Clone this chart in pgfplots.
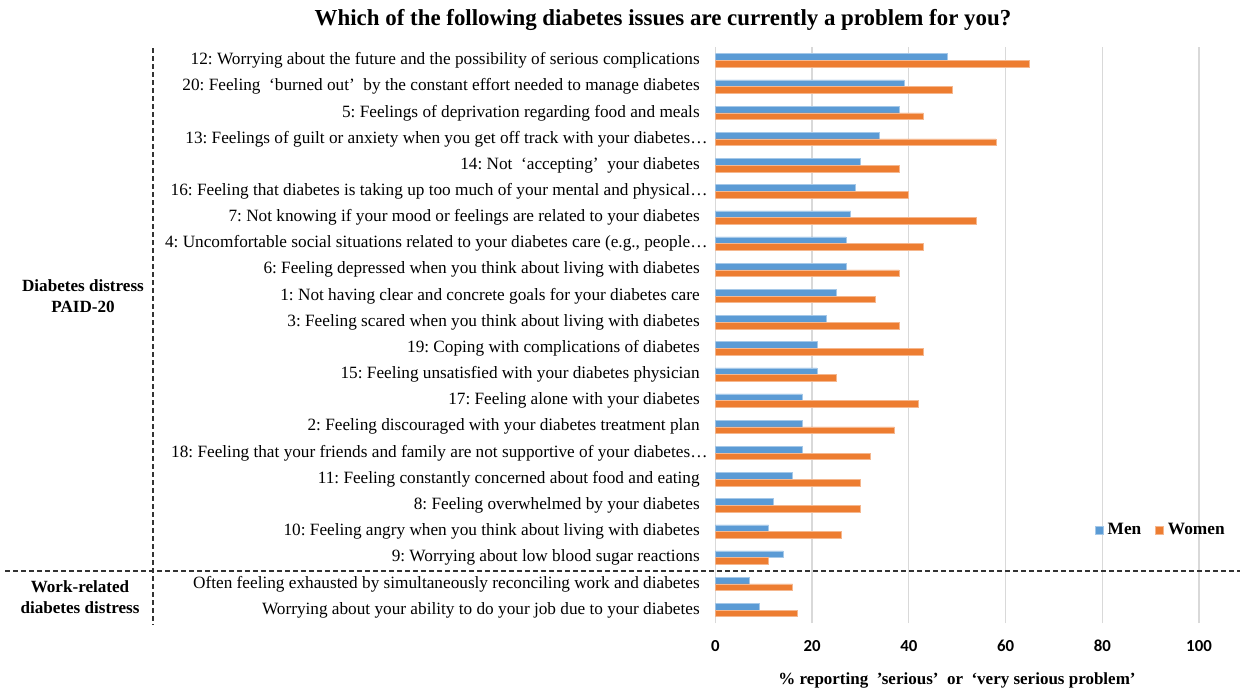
\documentclass[border=0pt]{standalone}
\usepackage{fontspec}
\setmainfont{Liberation Serif}
\newfontfamily\calibri{Carlito}
\usepackage{pgfplots}
\pgfplotsset{compat=1.18}
\definecolor{menblue}{HTML}{5B9BD5}
\definecolor{womenorange}{HTML}{ED7D31}
\frenchspacing
\newcommand{\el}{\makebox[0.55em][l]{…}}
\begin{document}
\begin{tikzpicture}
\begin{axis}[
  at={(357.65pt,-311.55pt)}, anchor=south west,
  scale only axis, width=241.85pt, height=287.85pt,
  xmin=0, xmax=100, ymin=-0.5, ymax=21.5,
  xtick={0,20,40,60,80,100}, xticklabels={0,20,40,60,80,100},
  ytick={0,...,21},
  yticklabels={
    {Worrying about your ability to do your job due to your diabetes},
    {Often feeling exhausted by simultaneously reconciling work and diabetes},
    {9: Worrying about low blood sugar reactions},
    {10: Feeling angry when you think about living with diabetes},
    {8: Feeling overwhelmed by your diabetes},
    {11: Feeling constantly concerned about food and eating},
    {18: Feeling that your friends and family are not supportive of your diabetes\el},
    {2: Feeling discouraged with your diabetes treatment plan},
    {17: Feeling alone with your diabetes},
    {15: Feeling unsatisfied with your diabetes physician},
    {19: Coping with complications of diabetes},
    {3: Feeling scared when you think about living with diabetes},
    {1: Not having clear and concrete goals for your diabetes care},
    {6: Feeling depressed when you think about living with diabetes},
    {4: Uncomfortable social situations related to your diabetes care (e.g., people\el},
    {7: Not knowing if your mood or feelings are related to your diabetes},
    {16: Feeling that diabetes is taking up too much of your mental and physical\el},
    {14: Not\ \ ‘accepting’\ \ your diabetes},
    {13: Feelings of guilt or anxiety when you get off track with your diabetes\el},
    {5: Feelings of deprivation regarding food and meals},
    {20: Feeling\ \ ‘burned out’\ \ by the constant effort needed to manage diabetes},
    {12: Worrying about the future and the possibility of serious complications}
  },
  xmajorgrids, grid style={draw=black!15, line width=0.7pt},
  axis line style={draw=none},
  major tick length=0pt,
  yticklabel style={anchor=east, inner sep=0pt, xshift=-7.6pt, font=\fontsize{8.62}{10}\selectfont},
  xticklabel style={anchor=north, inner sep=0pt, yshift=-8.3pt, font=\calibri\bfseries\fontsize{8.4}{10}\selectfont},
  xbar, bar width=3.35pt,
  legend style={at={(0.772,0.162)}, anchor=west, draw=none, fill=none,
    legend columns=2, font=\bfseries\fontsize{8.65}{10}\selectfont,
    /tikz/every even column/.append style={column sep=5pt}},
  legend image code/.code={\fill[#1] (0pt,-2pt) rectangle (4pt,2pt);},
]
\addplot[xbar, bar shift=1.675pt, fill=menblue, draw=menblue!55, line width=0.3pt] coordinates {
(9,0) (7,1) (14,2) (11,3) (12,4) (16,5) (18,6) (18,7) (18,8) (21,9) (21,10)
(23,11) (25,12) (27,13) (27,14) (28,15) (29,16) (30,17) (34,18) (38,19) (39,20) (48,21)};
\addplot[xbar, bar shift=-1.675pt, fill=womenorange, draw=womenorange!55, line width=0.3pt] coordinates {
(17,0) (16,1) (11,2) (26,3) (30,4) (30,5) (32,6) (37,7) (42,8) (25,9) (43,10)
(38,11) (33,12) (38,13) (43,14) (54,15) (40,16) (38,17) (58,18) (43,19) (49,20) (65,21)};
\legend{Men,Women}
\end{axis}
\begin{scope}[x=0.5pt,y=-0.5pt]
\node[font=\bfseries\fontsize{11.45}{13}\selectfont] at (663,20) {Which of the following diabetes issues are currently a problem for you?};
\node[font=\bfseries\fontsize{8.5}{10}\selectfont] at (957,680) {\%\ reporting\ \ ’serious’\ \ or\ \ ‘very serious problem’};
\node[font=\bfseries\fontsize{8.55}{10.8}\selectfont, align=center] at (83,296) {Diabetes distress\\PAID-20};
\node[font=\bfseries\fontsize{8.55}{10.8}\selectfont, align=center] at (80,597) {Work-related\\diabetes distress};
\draw[black!80, line width=0.7pt, dash pattern=on 2.5pt off 1.5pt] (153,48) -- (153,625);
\draw[black!80, line width=0.7pt, dash pattern=on 2.5pt off 1.5pt] (5,571) -- (1240,571);
\pgfresetboundingbox
\path[use as bounding box] (0,0) rectangle (1242,691);
\end{scope}
\end{tikzpicture}
\end{document}
